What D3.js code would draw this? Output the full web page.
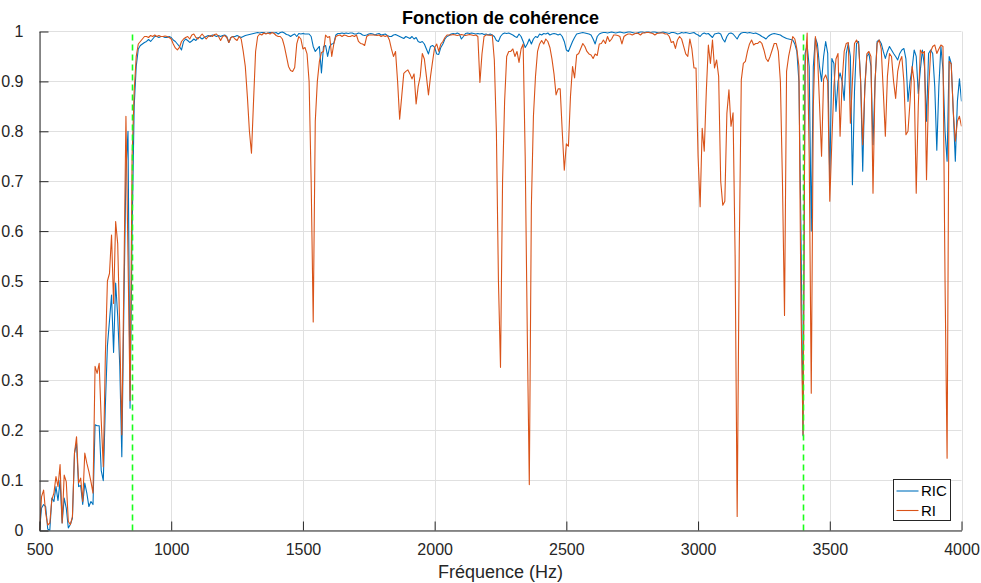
<!DOCTYPE html>
<html>
<head>
<meta charset="utf-8">
<script src="https://cdn.jsdelivr.net/npm/d3@7/dist/d3.min.js"></script>
<style>
  html, body { margin: 0; padding: 0; background: #fff; }
  svg { display: block; font-family: "Liberation Sans", Arial, Helvetica, sans-serif; }
</style>
</head>
<body>
<svg id="chart" width="981" height="583"></svg>
<script>
// Frequency grid of the coherence estimate (Hz)
const F0 = 500;
const DF = 7.8125;

// Coherence, RIC
const ric = [
  0.00, 0.045, 0.052, 0.048, 0.003, 0.0, 0.065, 0.058, 0.088, 0.06,
  0.10, 0.015, 0.065, 0.045, 0.005, 0.012, 0.025, 0.155, 0.175, 0.088,
  0.09, 0.052, 0.095, 0.075, 0.048, 0.058, 0.052, 0.212, 0.21, 0.21,
  0.12, 0.10, 0.25, 0.37, 0.42, 0.472, 0.357, 0.496, 0.43, 0.33,
  0.148, 0.45, 0.72, 0.80, 0.245, 0.60, 0.85, 0.93, 0.965, 0.972,
  0.975, 0.978, 0.98, 0.984, 0.98, 0.985, 0.99, 0.99, 0.988, 0.99,
  0.99, 0.988, 0.988, 0.99, 0.988, 0.983, 0.98, 0.975, 0.97, 0.963,
  0.98, 0.985, 0.982, 0.978, 0.981, 0.985, 0.982, 0.988, 0.988, 0.985,
  0.988, 0.99, 0.992, 0.99, 0.993, 0.992, 0.99, 0.992, 0.99, 0.992,
  0.993, 0.99, 0.978, 0.988, 0.99, 0.99, 0.992, 0.99, 0.988, 0.99,
  0.992, 0.993, 0.994, 0.995, 0.996, 0.997, 0.998, 0.997, 0.998, 0.998,
  0.996, 0.997, 0.998, 0.998, 0.997, 0.998, 0.995, 0.998, 0.999, 0.997,
  0.994, 0.993, 0.99, 0.993, 0.995, 0.99, 0.996, 0.995, 0.996, 0.995,
  0.995, 0.995, 0.99, 0.97, 0.96, 0.965, 0.97, 0.917, 0.97, 0.972,
  0.95, 0.97, 0.975, 0.976, 0.993, 0.996, 0.996, 0.997, 0.996, 0.997,
  0.996, 0.997, 0.997, 0.995, 0.995, 0.997, 0.996, 0.993, 0.992, 0.993,
  0.995, 0.996, 0.995, 0.993, 0.995, 0.996, 0.993, 0.994, 0.995, 0.992,
  0.99, 0.99, 0.993, 0.994, 0.992, 0.99, 0.988, 0.986, 0.99, 0.988,
  0.986, 0.99, 0.985, 0.988, 0.98, 0.978, 0.98, 0.975, 0.965, 0.955,
  0.97, 0.972, 0.968, 0.955, 0.954, 0.968, 0.975, 0.985, 0.99, 0.992,
  0.995, 0.996, 0.995, 0.997, 0.995, 0.985, 0.99, 0.996, 0.997, 0.996,
  0.997, 0.996, 0.995, 0.996, 0.995, 0.996, 0.994, 0.995, 0.993, 0.995,
  0.993, 0.99, 0.982, 0.98, 0.99, 0.995, 0.997, 0.996, 0.997, 0.995,
  0.993, 0.99, 0.988, 0.995, 0.99, 0.98, 0.968, 0.975, 0.985, 0.975,
  0.985, 0.99, 0.988, 0.995, 0.993, 0.996, 0.995, 0.997, 0.993, 0.995,
  0.996, 0.995, 0.993, 0.995, 0.99, 0.98, 0.963, 0.96, 0.97, 0.98,
  0.988, 0.995, 0.996, 0.997, 0.998, 0.997, 0.996, 0.995, 0.993, 0.985,
  0.975, 0.99, 0.995, 0.997, 0.998, 0.998, 0.997, 0.998, 0.999, 0.998,
  0.997, 0.998, 0.999, 0.998, 0.997, 0.998, 0.999, 0.999, 0.998, 0.997,
  0.996, 0.998, 0.999, 0.999, 0.998, 0.999, 0.999, 0.998, 0.999, 0.999,
  0.998, 0.997, 0.998, 0.999, 0.998, 0.997, 0.996, 0.998, 0.998, 0.997,
  0.995, 0.996, 0.998, 0.997, 0.998, 0.997, 0.996, 0.997, 0.998, 0.995,
  0.993, 0.99, 0.995, 0.997, 0.995, 0.996, 0.992, 0.988, 0.995, 0.996,
  0.997, 0.995, 0.985, 0.979, 0.99, 0.996, 0.997, 0.995, 0.99, 0.985,
  0.993, 0.997, 0.998, 0.998, 0.997, 0.998, 0.997, 0.996, 0.997, 0.995,
  0.993, 0.99, 0.988, 0.985, 0.99, 0.993, 0.995, 0.996, 0.995, 0.994,
  0.993, 0.99, 0.988, 0.986, 0.985, 0.984, 0.983, 0.975, 0.96, 0.90,
  0.60, 0.19, 0.956, 0.973, 0.93, 0.60, 0.93, 0.987, 0.975, 0.93,
  0.90, 0.95, 0.98, 0.956, 0.70, 0.946, 0.936, 0.84, 0.90, 0.917,
  0.90, 0.862, 0.956, 0.976, 0.95, 0.693, 0.88, 0.976, 0.98, 0.90,
  0.72, 0.89, 0.95, 0.956, 0.93, 0.773, 0.90, 0.98, 0.983, 0.976,
  0.96, 0.946, 0.96, 0.97, 0.963, 0.956, 0.95, 0.943, 0.956, 0.963,
  0.966, 0.945, 0.86, 0.90, 0.926, 0.963, 0.95, 0.876, 0.923, 0.963,
  0.93, 0.82, 0.956, 0.963, 0.956, 0.89, 0.762, 0.89, 0.97, 0.923,
  0.80, 0.74, 0.95, 0.936, 0.84, 0.74, 0.86, 0.905, 0.86
];

// Coherence, RI
const ri = [
  0.00, 0.068, 0.081, 0.035, 0.011, 0.015, 0.062, 0.075, 0.108, 0.088,
  0.132, 0.015, 0.111, 0.098, 0.018, 0.012, 0.028, 0.155, 0.188, 0.095,
  0.105, 0.058, 0.155, 0.135, 0.118, 0.098, 0.075, 0.329, 0.315, 0.335,
  0.22, 0.128, 0.35, 0.50, 0.515, 0.592, 0.455, 0.619, 0.575, 0.40,
  0.192, 0.50, 0.83, 0.55, 0.26, 0.75, 0.88, 0.95, 0.975, 0.98,
  0.985, 0.99, 0.99, 0.988, 0.992, 0.99, 0.993, 0.99, 0.992, 0.99,
  0.99, 0.991, 0.99, 0.988, 0.985, 0.975, 0.967, 0.963, 0.968, 0.98,
  0.985, 0.988, 0.99, 0.985, 0.993, 0.995, 0.988, 0.985, 0.99, 0.995,
  0.99, 0.985, 0.99, 0.992, 0.99, 0.994, 0.995, 0.99, 0.982, 0.99,
  0.992, 0.988, 0.978, 0.988, 0.99, 0.985, 0.982, 0.99, 0.985, 0.96,
  0.93, 0.87, 0.80, 0.756, 0.86, 0.96, 0.99, 0.995, 0.993, 0.997,
  0.995, 0.997, 0.995, 0.998, 0.996, 0.992, 0.99, 0.99, 0.985, 0.97,
  0.95, 0.93, 0.922, 0.92, 0.928, 0.975, 0.99, 0.985, 0.965, 0.968,
  0.955, 0.90, 0.70, 0.418, 0.82, 0.90, 0.94, 0.958, 0.96, 0.993,
  0.988, 0.99, 0.95, 0.975, 0.99, 0.992, 0.993, 0.99, 0.993, 0.992,
  0.99, 0.99, 0.992, 0.99, 0.993, 0.98, 0.976, 0.975, 0.972, 0.99,
  0.993, 0.993, 0.993, 0.993, 0.992, 0.993, 0.99, 0.992, 0.99, 0.992,
  0.983, 0.965, 0.95, 0.96, 0.90, 0.824, 0.87, 0.916, 0.92, 0.923,
  0.915, 0.905, 0.915, 0.855, 0.89, 0.91, 0.956, 0.945, 0.91, 0.873,
  0.91, 0.94, 0.968, 0.975, 0.96, 0.975, 0.98, 0.988, 0.993, 0.993,
  0.993, 0.994, 0.993, 0.992, 0.993, 0.994, 0.993, 0.992, 0.993, 0.994,
  0.993, 0.992, 0.993, 0.99, 0.898, 0.955, 0.99, 0.993, 0.993, 0.992,
  0.993, 0.943, 0.80, 0.50, 0.327, 0.70, 0.86, 0.95, 0.96, 0.96,
  0.965, 0.95, 0.96, 0.938, 0.965, 0.975, 0.75, 0.40, 0.092, 0.65,
  0.83, 0.91, 0.96, 0.975, 0.982, 0.975, 0.985, 0.98, 0.968, 0.945,
  0.915, 0.873, 0.885, 0.885, 0.80, 0.722, 0.775, 0.77, 0.87, 0.93,
  0.907, 0.953, 0.956, 0.966, 0.976, 0.97, 0.96, 0.955, 0.953, 0.946,
  0.955, 0.952, 0.975, 0.976, 0.983, 0.976, 0.99, 0.98, 0.985, 0.993,
  0.993, 0.992, 0.99, 0.975, 0.99, 0.993, 0.995, 0.995, 0.993, 0.995,
  0.997, 0.996, 0.993, 0.997, 0.997, 0.998, 0.998, 0.997, 0.996, 0.993,
  0.996, 0.997, 0.997, 0.997, 0.995, 0.995, 0.99, 0.978, 0.98, 0.966,
  0.983, 0.99, 0.985, 0.97, 0.955, 0.95, 0.985, 0.965, 0.927, 0.927,
  0.75, 0.649, 0.806, 0.76, 0.88, 0.973, 0.936, 0.983, 0.927, 0.943,
  0.91, 0.70, 0.652, 0.66, 0.836, 0.883, 0.81, 0.837, 0.55, 0.028,
  0.56, 0.903, 0.936, 0.94, 0.96, 0.975, 0.983, 0.973, 0.976, 0.976,
  0.98, 0.976, 0.963, 0.946, 0.94, 0.95, 0.963, 0.976, 0.976, 0.96,
  0.90, 0.70, 0.431, 0.92, 0.95, 0.97, 0.99, 0.985, 0.965, 0.93,
  0.45, 0.192, 0.93, 0.997, 0.75, 0.275, 0.85, 0.99, 0.956, 0.856,
  0.75, 0.905, 0.913, 0.90, 0.66, 0.78, 0.89, 0.945, 0.956, 0.79,
  0.90, 0.96, 0.976, 0.978, 0.816, 0.90, 0.976, 0.983, 0.975, 0.90,
  0.773, 0.88, 0.955, 0.96, 0.95, 0.676, 0.90, 0.976, 0.983, 0.965,
  0.88, 0.79, 0.91, 0.956, 0.95, 0.90, 0.866, 0.92, 0.94, 0.95,
  0.90, 0.793, 0.80, 0.86, 0.93, 0.90, 0.676, 0.85, 0.963, 0.956,
  0.96, 0.703, 0.88, 0.96, 0.97, 0.973, 0.956, 0.965, 0.973, 0.97,
  0.50, 0.145, 0.94, 0.935, 0.84, 0.78, 0.82, 0.83, 0.81
];

const seriesNames = ["RIC", "RI"];
const seriesColors = ["#0072BD", "#D95319"];

// Band limits marked with dashed lines (Hz)
const bandEdges = [850, 3400];

const xTicks = [500, 1000, 1500, 2000, 2500, 3000, 3500, 4000];
const xTickLabels = ["500", "1000", "1500", "2000", "2500", "3000", "3500", "4000"];
const yTicks = [0, 0.1, 0.2, 0.3, 0.4, 0.5, 0.6, 0.7, 0.8, 0.9, 1];
const yTickLabels = ["0", "0.1", "0.2", "0.3", "0.4", "0.5", "0.6", "0.7", "0.8", "0.9", "1"];

const titleText = "Fonction de cohérence";
const xLabelText = "Fréquence (Hz)";

// ---- drawing ----
const svg = d3.select("#chart");
const axisColor = "#262626";

const x = d3.scaleLinear().domain([500, 4000]).range([39.5, 961.5]);
const y = d3.scaleLinear().domain([0, 1]).range([530.5, 31.5]);

const plotL = x.range()[0], plotR = x.range()[1];
const plotB = y.range()[0], plotT = y.range()[1];

svg.append("rect").attr("width", 981).attr("height", 583).attr("fill", "#fff");

// grid
const grid = svg.append("g").attr("stroke", "#e0e0e0").attr("stroke-width", 1);
grid.selectAll("line.gx").data(xTicks).join("line")
  .attr("x1", d => Math.round(x(d)) + 0.5).attr("x2", d => Math.round(x(d)) + 0.5)
  .attr("y1", plotT).attr("y2", plotB);
grid.selectAll("line.gy").data(yTicks).join("line")
  .attr("x1", plotL).attr("x2", plotR)
  .attr("y1", d => Math.floor(y(d)) + 0.5).attr("y2", d => Math.floor(y(d)) + 0.5);

// data lines
const clipId = "plotClip";
svg.append("clipPath").attr("id", clipId).append("rect")
  .attr("x", plotL).attr("y", plotT - 2).attr("width", plotR - plotL).attr("height", plotB - plotT + 2);

const line = d3.line().x(d => x(d[0])).y(d => y(d[1]));
const series = [ric, ri].map(vals => vals.map((v, i) => [F0 + i * DF, v]));

svg.append("g").attr("clip-path", `url(#${clipId})`)
  .selectAll("path").data(series).join("path")
  .attr("d", line)
  .attr("fill", "none")
  .attr("stroke", (d, i) => seriesColors[i])
  .attr("stroke-width", 1.1)
  .attr("stroke-linejoin", "round");

// band edge markers
svg.append("g").selectAll("line").data(bandEdges).join("line")
  .attr("x1", d => Math.round(x(d)) + 0.5).attr("x2", d => Math.round(x(d)) + 0.5)
  .attr("y1", plotB).attr("y2", plotT)
  .attr("stroke", "#1aff1a")
  .attr("stroke-width", 1.6)
  .attr("stroke-dasharray", "6,4");

// axes (box off: left and bottom only, ticks pointing inwards)
const xAxis = d3.axisBottom(x).tickValues(xTicks).tickFormat((d, i) => xTickLabels[i])
  .tickSizeInner(-9).tickSizeOuter(0).tickPadding(13);
const yAxis = d3.axisLeft(y).tickValues(yTicks).tickFormat((d, i) => yTickLabels[i])
  .tickSizeInner(-9).tickSizeOuter(0).tickPadding(16);

const gx = svg.append("g").attr("transform", `translate(0,${plotB})`).call(xAxis);
const gy = svg.append("g").attr("transform", `translate(${plotL},0)`).call(yAxis);

[gx, gy].forEach(g => {
  g.select(".domain").attr("stroke", axisColor).attr("stroke-width", 1);
  g.selectAll(".tick line").attr("stroke", axisColor).attr("stroke-width", 1);
  g.selectAll(".tick text").attr("fill", axisColor)
    .style("font-family", '"Liberation Sans", Arial, sans-serif').style("font-size", "16px");
});

// title and axis label
svg.append("text").attr("x", (plotL + plotR) / 2).attr("y", 23.5)
  .attr("text-anchor", "middle").attr("fill", "#000")
  .style("font-size", "18px").style("font-weight", "bold")
  .text(titleText);

svg.append("text").attr("x", (plotL + plotR) / 2).attr("y", 578)
  .attr("text-anchor", "middle").attr("fill", axisColor)
  .style("font-size", "18px")
  .text(xLabelText);

// legend
const lg = svg.append("g").attr("transform", "translate(893.5,479.5)");
lg.append("rect").attr("width", 57).attr("height", 41)
  .attr("fill", "#fff").attr("stroke", axisColor).attr("stroke-width", 1);
seriesNames.forEach((name, i) => {
  const yy = 11.5 + i * 19.5;
  lg.append("line").attr("x1", 3).attr("x2", 25).attr("y1", yy).attr("y2", yy)
    .attr("stroke", seriesColors[i]).attr("stroke-width", 1.1);
  lg.append("text").attr("x", 27.5).attr("y", yy + 5.3)
    .attr("fill", "#000").style("font-size", "15px").text(name);
});
</script>
</body>
</html>
